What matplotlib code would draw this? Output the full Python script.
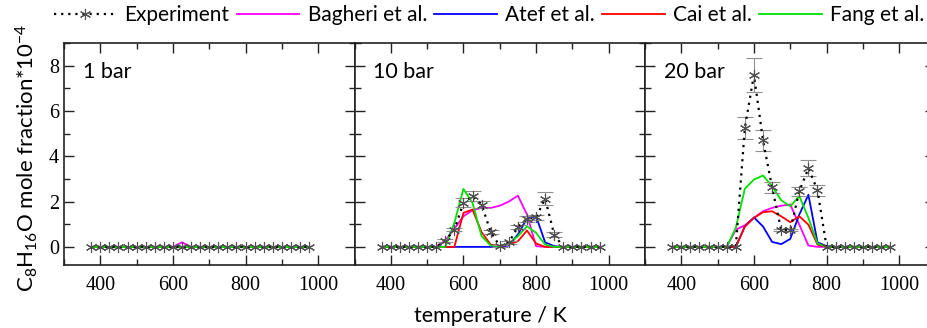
import numpy as np
import matplotlib
matplotlib.use("Agg")
import matplotlib.pyplot as plt
from matplotlib.ticker import MultipleLocator

plt.rcParams['font.family'] = ['Lato', 'DejaVu Sans']
plt.rcParams['mathtext.fontset'] = 'custom'
plt.rcParams['mathtext.rm'] = 'Lato'
plt.rcParams['mathtext.it'] = 'Lato'

T = np.arange(375, 976, 25)

pressures = ["1 bar", "10 bar", "20 bar"]

# Experiment
exp_1 = [0]*25
exp_10 = [0, 0, 0, 0, 0, 0, 0, 0.28, 0.76, 1.94, 2.24, 1.87, 0.66, 0.03, 0.2, 0.88, 1.24, 1.3, 2.13, 0.54, 0, 0, 0, 0, 0]
exp_20 = [0, 0, 0, 0, 0, 0, 0, 0, 5.25, 7.6, 4.7, 2.63, 0.74, 0.74, 2.46, 3.47, 2.5, 0, 0, 0, 0, 0, 0, 0, 0]
err_1 = [0]*25
err_10 = [0, 0, 0, 0, 0, 0, 0, 0.05, 0.08, 0.2, 0.22, 0.15, 0.1, 0.05, 0.08, 0.1, 0.12, 0.12, 0.28, 0.1, 0, 0, 0, 0, 0]
err_20 = [0, 0, 0, 0, 0, 0, 0, 0, 0.5, 0.75, 0.48, 0.25, 0.05, 0.05, 0.2, 0.35, 0.25, 0, 0, 0, 0, 0, 0, 0, 0]

# Models
bagheri_1 = [0]*9 + [0, 0.2, 0] + [0]*13
atef_1 = [0]*25
cai_1 = [0]*25
fang_1 = [0]*25

bagheri_10 = [0, 0, 0, 0, 0, 0, 0, 0.28, 0.8, 1.35, 1.62, 1.72, 1.72, 1.82, 2.0, 2.26, 1.43, 0.03, 0, 0, 0, 0, 0, 0, 0]
atef_10 = [0, 0, 0, 0, 0, 0, 0, 0, 0, 0, 0, 0, 0, 0, 0.06, 0.55, 1.25, 1.35, 0.2, 0.03, 0, 0, 0, 0, 0]
cai_10 = [0, 0, 0, 0, 0, 0, 0, 0, 0, 1.5, 1.65, 0.65, 0.1, 0.03, 0.1, 0.25, 0.72, 0.15, 0, 0, 0, 0, 0, 0, 0]
fang_10 = [0, 0, 0, 0, 0, 0, 0, 0, 1.06, 2.56, 1.94, 0.47, 0.06, 0.03, 0.15, 0.47, 0.91, 0.62, 0.1, 0, 0, 0, 0, 0, 0]

bagheri_20 = [0, 0, 0, 0, 0, 0, 0, 0.76, 0.95, 1.28, 1.57, 1.72, 1.82, 1.87, 0.98, 0.06, 0, 0, 0, 0, 0, 0, 0, 0, 0]
atef_20 = [0, 0, 0, 0, 0, 0, 0, 0, 0.9, 1.3, 0.9, 0.22, 0.12, 0.35, 1.43, 2.3, 0.2, 0.03, 0, 0, 0, 0, 0, 0, 0]
cai_20 = [0, 0, 0, 0, 0, 0, 0, 0, 0.9, 1.28, 1.53, 1.57, 1.35, 1.09, 1.35, 0.98, 0.1, 0, 0, 0, 0, 0, 0, 0, 0]
fang_20 = [0, 0, 0, 0, 0, 0, 0, 0.84, 2.57, 2.97, 3.15, 2.68, 2.06, 1.79, 2.24, 1.28, 0.15, 0, 0, 0, 0, 0, 0, 0, 0]

exps = [exp_1, exp_10, exp_20]
errs = [err_1, err_10, err_20]
models = {
    "Bagheri et al.": ([bagheri_1, bagheri_10, bagheri_20], "#ff00ff"),
    "Atef et al.": ([atef_1, atef_10, atef_20], "#0000ff"),
    "Cai et al.": ([cai_1, cai_10, cai_20], "#ff0000"),
    "Fang et al.": ([fang_1, fang_10, fang_20], "#00e000"),
}

W, H = 927, 328
fig = plt.figure(figsize=(W/100, H/100), dpi=100)
lefts = [64, 354.5, 645]
pw = 290.5
bottom_px, top_px = 265, 43
axes = []
star = (6, 2, 0)
for i in range(3):
    ax = fig.add_axes([lefts[i]/W, 1 - bottom_px/H, pw/W, (bottom_px - top_px)/H])
    axes.append(ax)
    handles = []
    for name, (vals, col) in models.items():
        h, = ax.plot(T, vals[i], color=col, lw=1.3, zorder=2, label=name)
        handles.append(h)
    e = np.array(exps[i], dtype=float)
    er = np.array(errs[i], dtype=float)
    m = er > 0
    if m.any():
        ax.errorbar(T[m], e[m], yerr=er[m], fmt='none', ecolor='#909090',
                    elinewidth=0.8, capsize=6, capthick=0.8, zorder=3)
    hexp, = ax.plot(T, e, linestyle=(0, (1, 2.2)), color='black', lw=1.6,
                    marker=star, markersize=8, markeredgecolor='#505050',
                    markeredgewidth=0.8, zorder=4, label="Experiment")
    ax.set_xlim(300, 1100)
    ax.set_ylim(-0.8, 9)
    ax.xaxis.set_major_locator(MultipleLocator(200))
    ax.xaxis.set_minor_locator(MultipleLocator(100))
    ax.yaxis.set_major_locator(MultipleLocator(2))
    ax.yaxis.set_minor_locator(MultipleLocator(1))
    ax.tick_params(which='both', direction='in', top=True, right=True,
                   width=1.0, color='#222222')
    ax.tick_params(which='major', length=7)
    ax.tick_params(which='minor', length=4)
    ax.tick_params(axis='x', which='major', pad=8)
    for lab in ax.get_xticklabels() + ax.get_yticklabels():
        lab.set_fontfamily('Liberation Serif')
        lab.set_fontsize(14.5)
    if i > 0:
        ax.set_yticklabels([])
    for s in ax.spines.values():
        s.set_linewidth(1.2)
        s.set_color('#222222')
    ax.text(0.065, 0.87, pressures[i], transform=ax.transAxes, fontsize=15.5,
            ha='left', va='center')

fig.text(27/W, 0.5 + 0.02, r'C$_8$H$_{16}$O mole fraction*10$^{-4}$', rotation=90,
         fontsize=16, ha='center', va='center')
fig.text(490/W, 1 - 316/H, 'temperature / K', fontsize=15.5, ha='center', va='center')

order = [hexp] + handles
fig.legend(order, [h.get_label() for h in order], loc='center', ncol=5,
           bbox_to_anchor=(489/W, 1 - 15/H), frameon=False, fontsize=15,
           handlelength=3.0, handletextpad=0.4, columnspacing=0.35,
           borderaxespad=0, borderpad=0)

fig.savefig("out.png", dpi=100)
